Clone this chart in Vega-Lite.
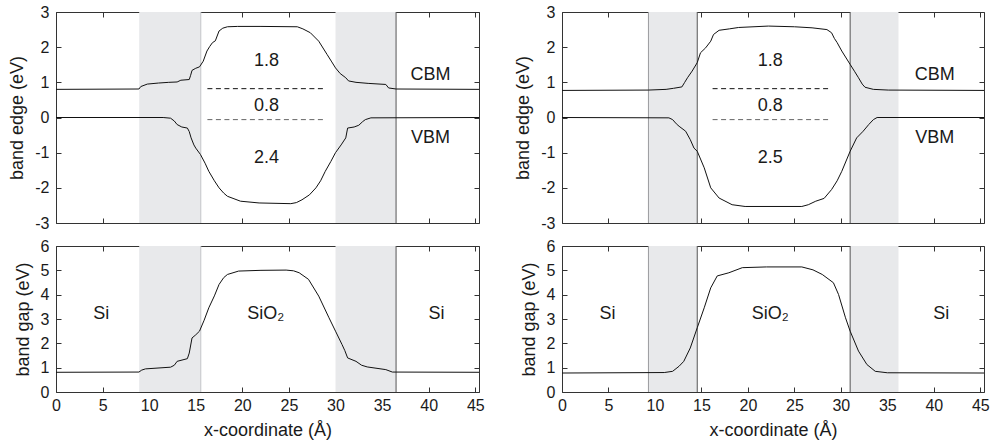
{
  "$schema": "https://vega.github.io/schema/vega-lite/v6.json",
  "background": "white",
  "padding": {"left": 8, "top": 3, "right": 5, "bottom": 5},
  "config": {
    "font": "Liberation Sans",
    "view": {"stroke": "#333", "strokeWidth": 1},
    "axis": {"grid": false, "domain": false, "tickColor": "#333", "tickSize": -5, "tickWidth": 1, "labelFont": "Liberation Sans", "labelFontSize": 16, "labelColor": "#1a1a1a", "labelFlush": false, "labelOverlap": false, "titleFont": "Liberation Sans", "titleFontSize": 18, "titleFontWeight": "normal", "titleColor": "#1a1a1a", "zindex": 1},
    "axisX": {"labelPadding": 10, "titlePadding": 8},
    "axisY": {"labelPadding": 12, "titlePadding": 8},
    "text": {"font": "Liberation Sans", "fontSize": 18, "color": "#1a1a1a"},
    "line": {"color": "#111", "strokeWidth": 1}
  },
  "datasets": {
    "curves": [
      {"panel": "LT", "series": "CBM", "x": 0, "y": 0.80},
      {"panel": "LT", "series": "CBM", "x": 8.9, "y": 0.81},
      {"panel": "LT", "series": "CBM", "x": 9.1, "y": 0.88},
      {"panel": "LT", "series": "CBM", "x": 9.8, "y": 0.95},
      {"panel": "LT", "series": "CBM", "x": 11.0, "y": 0.98},
      {"panel": "LT", "series": "CBM", "x": 12.1, "y": 1.0},
      {"panel": "LT", "series": "CBM", "x": 13.0, "y": 1.01},
      {"panel": "LT", "series": "CBM", "x": 13.4, "y": 1.06},
      {"panel": "LT", "series": "CBM", "x": 14.3, "y": 1.08},
      {"panel": "LT", "series": "CBM", "x": 14.45, "y": 1.2},
      {"panel": "LT", "series": "CBM", "x": 14.6, "y": 1.34},
      {"panel": "LT", "series": "CBM", "x": 15.0, "y": 1.40},
      {"panel": "LT", "series": "CBM", "x": 15.4, "y": 1.44},
      {"panel": "LT", "series": "CBM", "x": 15.8, "y": 1.6},
      {"panel": "LT", "series": "CBM", "x": 16.2, "y": 1.89},
      {"panel": "LT", "series": "CBM", "x": 16.5, "y": 2.02},
      {"panel": "LT", "series": "CBM", "x": 16.8, "y": 2.13},
      {"panel": "LT", "series": "CBM", "x": 17.1, "y": 2.18},
      {"panel": "LT", "series": "CBM", "x": 17.5, "y": 2.46},
      {"panel": "LT", "series": "CBM", "x": 17.9, "y": 2.54},
      {"panel": "LT", "series": "CBM", "x": 18.4, "y": 2.58},
      {"panel": "LT", "series": "CBM", "x": 19.5, "y": 2.59},
      {"panel": "LT", "series": "CBM", "x": 22.0, "y": 2.59},
      {"panel": "LT", "series": "CBM", "x": 25.9, "y": 2.58},
      {"panel": "LT", "series": "CBM", "x": 26.5, "y": 2.52},
      {"panel": "LT", "series": "CBM", "x": 27.3, "y": 2.41},
      {"panel": "LT", "series": "CBM", "x": 28.2, "y": 2.17},
      {"panel": "LT", "series": "CBM", "x": 29.1, "y": 1.79},
      {"panel": "LT", "series": "CBM", "x": 29.6, "y": 1.58},
      {"panel": "LT", "series": "CBM", "x": 30.0, "y": 1.41},
      {"panel": "LT", "series": "CBM", "x": 30.5, "y": 1.25},
      {"panel": "LT", "series": "CBM", "x": 31.1, "y": 1.13},
      {"panel": "LT", "series": "CBM", "x": 31.4, "y": 1.04},
      {"panel": "LT", "series": "CBM", "x": 32.2, "y": 1.0},
      {"panel": "LT", "series": "CBM", "x": 33.5, "y": 0.97},
      {"panel": "LT", "series": "CBM", "x": 35.4, "y": 0.94},
      {"panel": "LT", "series": "CBM", "x": 35.7, "y": 0.84},
      {"panel": "LT", "series": "CBM", "x": 36.5, "y": 0.81},
      {"panel": "LT", "series": "CBM", "x": 45.4, "y": 0.80},
      {"panel": "LT", "series": "VBM", "x": 0, "y": 0},
      {"panel": "LT", "series": "VBM", "x": 11.5, "y": 0},
      {"panel": "LT", "series": "VBM", "x": 12.3, "y": -0.02},
      {"panel": "LT", "series": "VBM", "x": 12.7, "y": -0.1},
      {"panel": "LT", "series": "VBM", "x": 13.0, "y": -0.2},
      {"panel": "LT", "series": "VBM", "x": 13.5, "y": -0.27},
      {"panel": "LT", "series": "VBM", "x": 14.1, "y": -0.3},
      {"panel": "LT", "series": "VBM", "x": 14.3, "y": -0.4},
      {"panel": "LT", "series": "VBM", "x": 14.5, "y": -0.58},
      {"panel": "LT", "series": "VBM", "x": 14.8, "y": -0.78},
      {"panel": "LT", "series": "VBM", "x": 15.0, "y": -0.87},
      {"panel": "LT", "series": "VBM", "x": 15.5, "y": -1.05},
      {"panel": "LT", "series": "VBM", "x": 16.0, "y": -1.3},
      {"panel": "LT", "series": "VBM", "x": 16.4, "y": -1.53},
      {"panel": "LT", "series": "VBM", "x": 17.0, "y": -1.8},
      {"panel": "LT", "series": "VBM", "x": 17.5, "y": -2.0},
      {"panel": "LT", "series": "VBM", "x": 18.0, "y": -2.15},
      {"panel": "LT", "series": "VBM", "x": 18.4, "y": -2.24},
      {"panel": "LT", "series": "VBM", "x": 19.0, "y": -2.3},
      {"panel": "LT", "series": "VBM", "x": 19.8, "y": -2.38},
      {"panel": "LT", "series": "VBM", "x": 21.8, "y": -2.43},
      {"panel": "LT", "series": "VBM", "x": 25.2, "y": -2.45},
      {"panel": "LT", "series": "VBM", "x": 25.8, "y": -2.42},
      {"panel": "LT", "series": "VBM", "x": 26.4, "y": -2.34},
      {"panel": "LT", "series": "VBM", "x": 27.2, "y": -2.2},
      {"panel": "LT", "series": "VBM", "x": 27.9, "y": -2.0},
      {"panel": "LT", "series": "VBM", "x": 28.4, "y": -1.8},
      {"panel": "LT", "series": "VBM", "x": 28.9, "y": -1.53},
      {"panel": "LT", "series": "VBM", "x": 29.5, "y": -1.25},
      {"panel": "LT", "series": "VBM", "x": 30.0, "y": -1.0},
      {"panel": "LT", "series": "VBM", "x": 30.6, "y": -0.78},
      {"panel": "LT", "series": "VBM", "x": 31.1, "y": -0.58},
      {"panel": "LT", "series": "VBM", "x": 31.3, "y": -0.3},
      {"panel": "LT", "series": "VBM", "x": 32.0, "y": -0.27},
      {"panel": "LT", "series": "VBM", "x": 32.5, "y": -0.22},
      {"panel": "LT", "series": "VBM", "x": 32.9, "y": -0.12},
      {"panel": "LT", "series": "VBM", "x": 33.2, "y": -0.06},
      {"panel": "LT", "series": "VBM", "x": 33.8, "y": -0.01},
      {"panel": "LT", "series": "VBM", "x": 45.4, "y": 0},
      {"panel": "LB", "series": "gap", "x": 0, "y": 0.81},
      {"panel": "LB", "series": "gap", "x": 8.9, "y": 0.82},
      {"panel": "LB", "series": "gap", "x": 9.2, "y": 0.9},
      {"panel": "LB", "series": "gap", "x": 9.6, "y": 0.95},
      {"panel": "LB", "series": "gap", "x": 12.3, "y": 1.02},
      {"panel": "LB", "series": "gap", "x": 12.7, "y": 1.1},
      {"panel": "LB", "series": "gap", "x": 13.0, "y": 1.26},
      {"panel": "LB", "series": "gap", "x": 14.1, "y": 1.37},
      {"panel": "LB", "series": "gap", "x": 14.3, "y": 1.6},
      {"panel": "LB", "series": "gap", "x": 14.6, "y": 2.22},
      {"panel": "LB", "series": "gap", "x": 15.0, "y": 2.35},
      {"panel": "LB", "series": "gap", "x": 15.4, "y": 2.5},
      {"panel": "LB", "series": "gap", "x": 15.9, "y": 2.95},
      {"panel": "LB", "series": "gap", "x": 16.4, "y": 3.46},
      {"panel": "LB", "series": "gap", "x": 17.0, "y": 3.95},
      {"panel": "LB", "series": "gap", "x": 17.5, "y": 4.42},
      {"panel": "LB", "series": "gap", "x": 18.0, "y": 4.7},
      {"panel": "LB", "series": "gap", "x": 18.4, "y": 4.83},
      {"panel": "LB", "series": "gap", "x": 19.6, "y": 4.97},
      {"panel": "LB", "series": "gap", "x": 22.0, "y": 5.0},
      {"panel": "LB", "series": "gap", "x": 24.7, "y": 5.01},
      {"panel": "LB", "series": "gap", "x": 25.5, "y": 4.98},
      {"panel": "LB", "series": "gap", "x": 26.1, "y": 4.9},
      {"panel": "LB", "series": "gap", "x": 27.1, "y": 4.63},
      {"panel": "LB", "series": "gap", "x": 28.2, "y": 3.94},
      {"panel": "LB", "series": "gap", "x": 29.3, "y": 3.05},
      {"panel": "LB", "series": "gap", "x": 30.0, "y": 2.5},
      {"panel": "LB", "series": "gap", "x": 30.7, "y": 1.95},
      {"panel": "LB", "series": "gap", "x": 31.0, "y": 1.7},
      {"panel": "LB", "series": "gap", "x": 31.3, "y": 1.4},
      {"panel": "LB", "series": "gap", "x": 32.2, "y": 1.26},
      {"panel": "LB", "series": "gap", "x": 32.8, "y": 1.1},
      {"panel": "LB", "series": "gap", "x": 33.4, "y": 1.03},
      {"panel": "LB", "series": "gap", "x": 35.4, "y": 0.92},
      {"panel": "LB", "series": "gap", "x": 36.1, "y": 0.82},
      {"panel": "LB", "series": "gap", "x": 45.4, "y": 0.81},
      {"panel": "RT", "series": "CBM", "x": 0, "y": 0.77},
      {"panel": "RT", "series": "CBM", "x": 9.3, "y": 0.78},
      {"panel": "RT", "series": "CBM", "x": 11.2, "y": 0.8},
      {"panel": "RT", "series": "CBM", "x": 12.0, "y": 0.83},
      {"panel": "RT", "series": "CBM", "x": 12.9, "y": 0.87},
      {"panel": "RT", "series": "CBM", "x": 13.2, "y": 1.0},
      {"panel": "RT", "series": "CBM", "x": 13.5, "y": 1.13},
      {"panel": "RT", "series": "CBM", "x": 14.0, "y": 1.32},
      {"panel": "RT", "series": "CBM", "x": 14.55, "y": 1.56},
      {"panel": "RT", "series": "CBM", "x": 14.9, "y": 1.84},
      {"panel": "RT", "series": "CBM", "x": 15.45, "y": 1.98},
      {"panel": "RT", "series": "CBM", "x": 16.0, "y": 2.17},
      {"panel": "RT", "series": "CBM", "x": 16.3, "y": 2.36},
      {"panel": "RT", "series": "CBM", "x": 16.9, "y": 2.48},
      {"panel": "RT", "series": "CBM", "x": 18.0, "y": 2.52},
      {"panel": "RT", "series": "CBM", "x": 19.0, "y": 2.56},
      {"panel": "RT", "series": "CBM", "x": 22.2, "y": 2.6},
      {"panel": "RT", "series": "CBM", "x": 25.0, "y": 2.58},
      {"panel": "RT", "series": "CBM", "x": 26.9, "y": 2.55},
      {"panel": "RT", "series": "CBM", "x": 28.5, "y": 2.5},
      {"panel": "RT", "series": "CBM", "x": 29.0, "y": 2.41},
      {"panel": "RT", "series": "CBM", "x": 29.3, "y": 2.25},
      {"panel": "RT", "series": "CBM", "x": 29.6, "y": 2.13},
      {"panel": "RT", "series": "CBM", "x": 30.1, "y": 1.89},
      {"panel": "RT", "series": "CBM", "x": 31.0, "y": 1.51},
      {"panel": "RT", "series": "CBM", "x": 31.5, "y": 1.3},
      {"panel": "RT", "series": "CBM", "x": 31.9, "y": 1.13},
      {"panel": "RT", "series": "CBM", "x": 32.3, "y": 0.95},
      {"panel": "RT", "series": "CBM", "x": 32.6, "y": 0.86},
      {"panel": "RT", "series": "CBM", "x": 33.5, "y": 0.8},
      {"panel": "RT", "series": "CBM", "x": 35.1, "y": 0.78},
      {"panel": "RT", "series": "CBM", "x": 45.4, "y": 0.77},
      {"panel": "RT", "series": "VBM", "x": 0, "y": 0},
      {"panel": "RT", "series": "VBM", "x": 11.5, "y": -0.01},
      {"panel": "RT", "series": "VBM", "x": 11.9, "y": -0.06},
      {"panel": "RT", "series": "VBM", "x": 12.3, "y": -0.18},
      {"panel": "RT", "series": "VBM", "x": 12.6, "y": -0.25},
      {"panel": "RT", "series": "VBM", "x": 13.3, "y": -0.39},
      {"panel": "RT", "series": "VBM", "x": 13.8, "y": -0.63},
      {"panel": "RT", "series": "VBM", "x": 14.2, "y": -0.87},
      {"panel": "RT", "series": "VBM", "x": 14.55, "y": -0.96},
      {"panel": "RT", "series": "VBM", "x": 15.3, "y": -1.43},
      {"panel": "RT", "series": "VBM", "x": 16.0, "y": -2.0},
      {"panel": "RT", "series": "VBM", "x": 16.9, "y": -2.29},
      {"panel": "RT", "series": "VBM", "x": 18.3, "y": -2.48},
      {"panel": "RT", "series": "VBM", "x": 19.7, "y": -2.53},
      {"panel": "RT", "series": "VBM", "x": 25.8, "y": -2.53},
      {"panel": "RT", "series": "VBM", "x": 26.5, "y": -2.48},
      {"panel": "RT", "series": "VBM", "x": 27.3, "y": -2.38},
      {"panel": "RT", "series": "VBM", "x": 28.2, "y": -2.3},
      {"panel": "RT", "series": "VBM", "x": 29.0, "y": -2.05},
      {"panel": "RT", "series": "VBM", "x": 29.6, "y": -1.8},
      {"panel": "RT", "series": "VBM", "x": 30.1, "y": -1.53},
      {"panel": "RT", "series": "VBM", "x": 31.0, "y": -0.96},
      {"panel": "RT", "series": "VBM", "x": 31.7, "y": -0.58},
      {"panel": "RT", "series": "VBM", "x": 32.4, "y": -0.39},
      {"panel": "RT", "series": "VBM", "x": 33.0, "y": -0.2},
      {"panel": "RT", "series": "VBM", "x": 33.5, "y": -0.06},
      {"panel": "RT", "series": "VBM", "x": 33.9, "y": 0},
      {"panel": "RT", "series": "VBM", "x": 45.4, "y": 0},
      {"panel": "RB", "series": "gap", "x": 0, "y": 0.78},
      {"panel": "RB", "series": "gap", "x": 11.0, "y": 0.8},
      {"panel": "RB", "series": "gap", "x": 11.9, "y": 0.85},
      {"panel": "RB", "series": "gap", "x": 12.6, "y": 1.06},
      {"panel": "RB", "series": "gap", "x": 13.1, "y": 1.26},
      {"panel": "RB", "series": "gap", "x": 13.8, "y": 1.81},
      {"panel": "RB", "series": "gap", "x": 14.55, "y": 2.64},
      {"panel": "RB", "series": "gap", "x": 15.3, "y": 3.46},
      {"panel": "RB", "series": "gap", "x": 16.0, "y": 4.28},
      {"panel": "RB", "series": "gap", "x": 16.7, "y": 4.77},
      {"panel": "RB", "series": "gap", "x": 17.95, "y": 4.9},
      {"panel": "RB", "series": "gap", "x": 19.4, "y": 5.11},
      {"panel": "RB", "series": "gap", "x": 22.0, "y": 5.14},
      {"panel": "RB", "series": "gap", "x": 25.8, "y": 5.14},
      {"panel": "RB", "series": "gap", "x": 27.0, "y": 5.02},
      {"panel": "RB", "series": "gap", "x": 28.0, "y": 4.83},
      {"panel": "RB", "series": "gap", "x": 29.2, "y": 4.49},
      {"panel": "RB", "series": "gap", "x": 29.75, "y": 4.01},
      {"panel": "RB", "series": "gap", "x": 30.5, "y": 3.05},
      {"panel": "RB", "series": "gap", "x": 31.0, "y": 2.5},
      {"panel": "RB", "series": "gap", "x": 31.9, "y": 1.68},
      {"panel": "RB", "series": "gap", "x": 32.8, "y": 1.13},
      {"panel": "RB", "series": "gap", "x": 33.7, "y": 0.85},
      {"panel": "RB", "series": "gap", "x": 35.0, "y": 0.79},
      {"panel": "RB", "series": "gap", "x": 45.4, "y": 0.78}
    ],
    "shades": [
      {"side": "L", "x1": 8.93, "x2": 15.54},
      {"side": "L", "x1": 30.0, "x2": 36.5},
      {"side": "R", "x1": 9.3, "x2": 14.55},
      {"side": "R", "x1": 31.0, "x2": 36.2}
    ],
    "vlines": [
      {"side": "L", "kind": "faint", "x": 15.54},
      {"side": "L", "kind": "strong", "x": 36.5},
      {"side": "R", "kind": "faint", "x": 9.3},
      {"side": "R", "kind": "strong", "x": 14.55},
      {"side": "R", "kind": "strong", "x": 31.0}
    ],
    "dashes": [
      {"side": "L", "level": "CBM", "x1": 16.25, "x2": 29.0, "y": 0.82},
      {"side": "L", "level": "VBM", "x1": 16.25, "x2": 29.0, "y": -0.06},
      {"side": "R", "level": "CBM", "x1": 16.2, "x2": 29.0, "y": 0.82},
      {"side": "R", "level": "VBM", "x1": 16.2, "x2": 29.0, "y": -0.06}
    ],
    "labels": [
      {"panel": "LT", "text": "1.8", "x": 22.6, "y": 1.6},
      {"panel": "LT", "text": "0.8", "x": 22.6, "y": 0.32},
      {"panel": "LT", "text": "2.4", "x": 22.6, "y": -1.15},
      {"panel": "LT", "text": "CBM", "x": 40.2, "y": 1.22},
      {"panel": "LT", "text": "VBM", "x": 40.2, "y": -0.58},
      {"panel": "RT", "text": "1.8", "x": 22.4, "y": 1.6},
      {"panel": "RT", "text": "0.8", "x": 22.4, "y": 0.32},
      {"panel": "RT", "text": "2.5", "x": 22.4, "y": -1.15},
      {"panel": "RT", "text": "CBM", "x": 40.1, "y": 1.22},
      {"panel": "RT", "text": "VBM", "x": 40.1, "y": -0.58},
      {"panel": "LB", "text": "Si", "x": 4.85, "y": 3.2},
      {"panel": "LB", "text": "SiO₂", "x": 22.5, "y": 3.22},
      {"panel": "LB", "text": "Si", "x": 40.85, "y": 3.2},
      {"panel": "RB", "text": "Si", "x": 4.9, "y": 3.2},
      {"panel": "RB", "text": "SiO₂", "x": 22.4, "y": 3.22},
      {"panel": "RB", "text": "Si", "x": 40.8, "y": 3.2}
    ]
  },
  "columns": 2,
  "spacing": {"row": 23, "column": 83},
  "bounds": "flush",
  "concat": [
    {
      "width": 423, "height": 211,
      "layer": [
        {"data": {"name": "shades"}, "transform": [{"filter": "datum.side == 'L'"}], "mark": {"type": "rect", "color": "#e8e9eb"},
         "encoding": {"x": {"field": "x1", "type": "quantitative", "scale": {"domain": [0, 45.4], "nice": false}, "axis": null}, "x2": {"field": "x2"}}},
        {"data": {"name": "vlines"}, "transform": [{"filter": "datum.side == 'L' && datum.kind == 'faint'"}], "mark": {"type": "rule", "color": "#c4c5c8", "strokeWidth": 1},
         "encoding": {"x": {"field": "x", "type": "quantitative", "axis": null}}},
        {"data": {"name": "vlines"}, "transform": [{"filter": "datum.side == 'L' && datum.kind == 'strong'"}], "mark": {"type": "rule", "color": "#555", "strokeWidth": 1},
         "encoding": {"x": {"field": "x", "type": "quantitative", "axis": null}}},
        {"data": {"name": "curves"}, "transform": [{"filter": "datum.panel == 'LT'"}], "mark": {"type": "line"},
         "encoding": {"x": {"field": "x", "type": "quantitative", "axis": {"orient": "bottom", "values": [0,5,10,15,20,25,30,35,40,45], "labels": false, "title": null}},
                      "y": {"field": "y", "type": "quantitative", "scale": {"domain": [-3, 3], "nice": false}, "axis": {"orient": "left", "values": [-3,-2,-1,0,1,2,3], "labelExpr": "'' + datum.value", "title": "band edge (eV)"}},
                      "detail": {"field": "series"}}},
        {"data": {"name": "dashes"}, "transform": [{"filter": "datum.side == 'L' && datum.level == 'CBM'"}], "mark": {"type": "rule", "color": "#111", "strokeDash": [5, 3.5], "strokeWidth": 1},
         "encoding": {"x": {"field": "x1", "type": "quantitative", "axis": null}, "x2": {"field": "x2"}, "y": {"field": "y", "type": "quantitative", "axis": null}}},
        {"data": {"name": "dashes"}, "transform": [{"filter": "datum.side == 'L' && datum.level == 'VBM'"}], "mark": {"type": "rule", "color": "#666", "strokeDash": [5, 3.5], "strokeWidth": 1},
         "encoding": {"x": {"field": "x1", "type": "quantitative", "axis": null}, "x2": {"field": "x2"}, "y": {"field": "y", "type": "quantitative", "axis": null}}},
        {"data": {"name": "labels"}, "transform": [{"filter": "datum.panel == 'LT'"}], "mark": {"type": "text", "align": "center", "baseline": "middle"},
         "encoding": {"x": {"field": "x", "type": "quantitative", "axis": null}, "y": {"field": "y", "type": "quantitative", "axis": null}, "text": {"field": "text"}}},
        {"data": {"name": "curves"}, "transform": [{"filter": "datum.panel == 'LT'"}], "mark": {"type": "point", "opacity": 0},
         "encoding": {"x": {"field": "x", "type": "quantitative", "axis": {"orient": "top", "values": [0,5,10,15,20,25,30,35,40,45], "labels": false, "title": null}},
                      "y": {"field": "y", "type": "quantitative", "axis": {"orient": "right", "values": [-3,-2,-1,0,1,2,3], "labels": false, "title": null}}}}
      ],
      "resolve": {"axis": {"x": "independent", "y": "independent"}}
    },
    {
      "width": 422, "height": 211,
      "layer": [
        {"data": {"name": "shades"}, "transform": [{"filter": "datum.side == 'R'"}], "mark": {"type": "rect", "color": "#e8e9eb"},
         "encoding": {"x": {"field": "x1", "type": "quantitative", "scale": {"domain": [0, 45.4], "nice": false}, "axis": null}, "x2": {"field": "x2"}}},
        {"data": {"name": "vlines"}, "transform": [{"filter": "datum.side == 'R' && datum.kind == 'faint'"}], "mark": {"type": "rule", "color": "#9a9b9e", "strokeWidth": 1},
         "encoding": {"x": {"field": "x", "type": "quantitative", "axis": null}}},
        {"data": {"name": "vlines"}, "transform": [{"filter": "datum.side == 'R' && datum.kind == 'strong'"}], "mark": {"type": "rule", "color": "#555", "strokeWidth": 1},
         "encoding": {"x": {"field": "x", "type": "quantitative", "axis": null}}},
        {"data": {"name": "curves"}, "transform": [{"filter": "datum.panel == 'RT'"}], "mark": {"type": "line"},
         "encoding": {"x": {"field": "x", "type": "quantitative", "axis": {"orient": "bottom", "values": [0,5,10,15,20,25,30,35,40,45], "labels": false, "title": null}},
                      "y": {"field": "y", "type": "quantitative", "scale": {"domain": [-3, 3], "nice": false}, "axis": {"orient": "left", "values": [-3,-2,-1,0,1,2,3], "labelExpr": "'' + datum.value", "title": "band edge (eV)"}},
                      "detail": {"field": "series"}}},
        {"data": {"name": "dashes"}, "transform": [{"filter": "datum.side == 'R' && datum.level == 'CBM'"}], "mark": {"type": "rule", "color": "#111", "strokeDash": [5, 3.5], "strokeWidth": 1},
         "encoding": {"x": {"field": "x1", "type": "quantitative", "axis": null}, "x2": {"field": "x2"}, "y": {"field": "y", "type": "quantitative", "axis": null}}},
        {"data": {"name": "dashes"}, "transform": [{"filter": "datum.side == 'R' && datum.level == 'VBM'"}], "mark": {"type": "rule", "color": "#666", "strokeDash": [5, 3.5], "strokeWidth": 1},
         "encoding": {"x": {"field": "x1", "type": "quantitative", "axis": null}, "x2": {"field": "x2"}, "y": {"field": "y", "type": "quantitative", "axis": null}}},
        {"data": {"name": "labels"}, "transform": [{"filter": "datum.panel == 'RT'"}], "mark": {"type": "text", "align": "center", "baseline": "middle"},
         "encoding": {"x": {"field": "x", "type": "quantitative", "axis": null}, "y": {"field": "y", "type": "quantitative", "axis": null}, "text": {"field": "text"}}},
        {"data": {"name": "curves"}, "transform": [{"filter": "datum.panel == 'RT'"}], "mark": {"type": "point", "opacity": 0},
         "encoding": {"x": {"field": "x", "type": "quantitative", "axis": {"orient": "top", "values": [0,5,10,15,20,25,30,35,40,45], "labels": false, "title": null}},
                      "y": {"field": "y", "type": "quantitative", "axis": {"orient": "right", "values": [-3,-2,-1,0,1,2,3], "labels": false, "title": null}}}}
      ],
      "resolve": {"axis": {"x": "independent", "y": "independent"}}
    },
    {
      "width": 423, "height": 146,
      "layer": [
        {"data": {"name": "shades"}, "transform": [{"filter": "datum.side == 'L'"}], "mark": {"type": "rect", "color": "#e8e9eb"},
         "encoding": {"x": {"field": "x1", "type": "quantitative", "scale": {"domain": [0, 45.4], "nice": false}, "axis": null}, "x2": {"field": "x2"}}},
        {"data": {"name": "vlines"}, "transform": [{"filter": "datum.side == 'L' && datum.kind == 'faint'"}], "mark": {"type": "rule", "color": "#c4c5c8", "strokeWidth": 1},
         "encoding": {"x": {"field": "x", "type": "quantitative", "axis": null}}},
        {"data": {"name": "vlines"}, "transform": [{"filter": "datum.side == 'L' && datum.kind == 'strong'"}], "mark": {"type": "rule", "color": "#555", "strokeWidth": 1},
         "encoding": {"x": {"field": "x", "type": "quantitative", "axis": null}}},
        {"data": {"name": "curves"}, "transform": [{"filter": "datum.panel == 'LB'"}], "mark": {"type": "line"},
         "encoding": {"x": {"field": "x", "type": "quantitative", "axis": {"orient": "bottom", "values": [0,5,10,15,20,25,30,35,40,45], "title": "x-coordinate  (Å)"}},
                      "y": {"field": "y", "type": "quantitative", "scale": {"domain": [0, 6], "nice": false}, "axis": {"orient": "left", "values": [0,1,2,3,4,5,6], "title": "band gap (eV)"}},
                      "detail": {"field": "series"}}},
        {"data": {"name": "labels"}, "transform": [{"filter": "datum.panel == 'LB'"}], "mark": {"type": "text", "align": "center", "baseline": "middle"},
         "encoding": {"x": {"field": "x", "type": "quantitative", "axis": null}, "y": {"field": "y", "type": "quantitative", "axis": null}, "text": {"field": "text"}}},
        {"data": {"name": "curves"}, "transform": [{"filter": "datum.panel == 'LB'"}], "mark": {"type": "point", "opacity": 0},
         "encoding": {"x": {"field": "x", "type": "quantitative", "axis": {"orient": "top", "values": [0,5,10,15,20,25,30,35,40,45], "labels": false, "title": null}},
                      "y": {"field": "y", "type": "quantitative", "axis": {"orient": "right", "values": [0,1,2,3,4,5,6], "labels": false, "title": null}}}}
      ],
      "resolve": {"axis": {"x": "independent", "y": "independent"}}
    },
    {
      "width": 422, "height": 146,
      "layer": [
        {"data": {"name": "shades"}, "transform": [{"filter": "datum.side == 'R'"}], "mark": {"type": "rect", "color": "#e8e9eb"},
         "encoding": {"x": {"field": "x1", "type": "quantitative", "scale": {"domain": [0, 45.4], "nice": false}, "axis": null}, "x2": {"field": "x2"}}},
        {"data": {"name": "vlines"}, "transform": [{"filter": "datum.side == 'R' && datum.kind == 'faint'"}], "mark": {"type": "rule", "color": "#9a9b9e", "strokeWidth": 1},
         "encoding": {"x": {"field": "x", "type": "quantitative", "axis": null}}},
        {"data": {"name": "vlines"}, "transform": [{"filter": "datum.side == 'R' && datum.kind == 'strong'"}], "mark": {"type": "rule", "color": "#555", "strokeWidth": 1},
         "encoding": {"x": {"field": "x", "type": "quantitative", "axis": null}}},
        {"data": {"name": "curves"}, "transform": [{"filter": "datum.panel == 'RB'"}], "mark": {"type": "line"},
         "encoding": {"x": {"field": "x", "type": "quantitative", "axis": {"orient": "bottom", "values": [0,5,10,15,20,25,30,35,40,45], "title": "x-coordinate  (Å)"}},
                      "y": {"field": "y", "type": "quantitative", "scale": {"domain": [0, 6], "nice": false}, "axis": {"orient": "left", "values": [0,1,2,3,4,5,6], "title": "band gap (eV)"}},
                      "detail": {"field": "series"}}},
        {"data": {"name": "labels"}, "transform": [{"filter": "datum.panel == 'RB'"}], "mark": {"type": "text", "align": "center", "baseline": "middle"},
         "encoding": {"x": {"field": "x", "type": "quantitative", "axis": null}, "y": {"field": "y", "type": "quantitative", "axis": null}, "text": {"field": "text"}}},
        {"data": {"name": "curves"}, "transform": [{"filter": "datum.panel == 'RB'"}], "mark": {"type": "point", "opacity": 0},
         "encoding": {"x": {"field": "x", "type": "quantitative", "axis": {"orient": "top", "values": [0,5,10,15,20,25,30,35,40,45], "labels": false, "title": null}},
                      "y": {"field": "y", "type": "quantitative", "axis": {"orient": "right", "values": [0,1,2,3,4,5,6], "labels": false, "title": null}}}}
      ],
      "resolve": {"axis": {"x": "independent", "y": "independent"}}
    }
  ]
}
